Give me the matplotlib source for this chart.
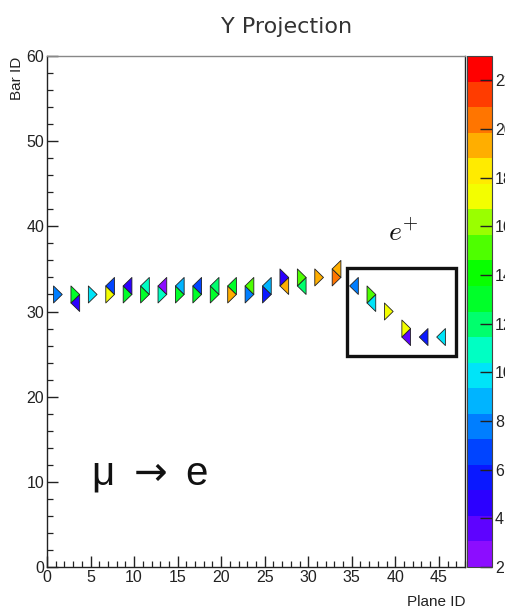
import numpy as np
import matplotlib
matplotlib.use("Agg")
import matplotlib.pyplot as plt
from matplotlib.collections import PolyCollection
from matplotlib.colors import LinearSegmentedColormap, BoundaryNorm
from matplotlib.patches import Rectangle
from matplotlib.ticker import MultipleLocator
from matplotlib.cm import ScalarMappable

# Hit cells of the Y-view track: plane, triangular bar and deposited signal
plane_id = [1, 3, 3, 5, 7, 7, 9, 9, 11, 11, 13, 13, 15, 15, 17, 17, 19, 19,
            21, 21, 23, 23, 25, 25, 27, 27, 29, 29, 31, 33, 33, 35, 37, 37,
            39, 41, 41, 43, 45]
bar_id = [32, 31, 32, 32, 32, 33, 32, 33, 32, 33, 32, 33, 32, 33, 32, 33, 32, 33,
          32, 33, 32, 33, 32, 33, 33, 34, 33, 34, 34, 34, 35, 33, 31, 32,
          30, 27, 28, 27, 27]
hits = [8.0, 4.5, 13.0, 9.5, 17.5, 7.0, 13.0, 5.0, 12.5, 10.5, 11.0, 3.0, 13.0, 8.5,
        12.5, 7.0, 13.5, 12.0, 19.5, 13.0, 8.0, 15.5, 5.5, 9.0, 19.5, 5.0, 11.5,
        15.0, 19.0, 20.0, 19.5, 8.0, 9.5, 15.0, 17.5, 4.0, 17.0, 5.5, 10.0]

z_min, z_max, n_levels = 2.0, 23.0, 20
cbar_ticks = list(range(2, 24, 2))

# rainbow palette, violet -> blue -> cyan -> green -> yellow -> red
palette = LinearSegmentedColormap.from_list("rainbow_root", [
    (0.00, (0.55, 0.05, 1.0)),
    (0.07, (0.30, 0.0, 1.0)),
    (0.12, (0.10, 0.0, 1.0)),
    (0.18, (0.0, 0.15, 1.0)),
    (0.24, (0.0, 0.40, 1.0)),
    (0.30, (0.0, 0.65, 1.0)),
    (0.35, (0.0, 0.85, 1.0)),
    (0.40, (0.0, 1.0, 0.90)),
    (0.45, (0.0, 1.0, 0.55)),
    (0.50, (0.0, 1.0, 0.25)),
    (0.57, (0.0, 1.0, 0.0)),
    (0.64, (0.35, 1.0, 0.0)),
    (0.69, (0.65, 1.0, 0.0)),
    (0.73, (0.95, 1.0, 0.0)),
    (0.79, (1.0, 0.92, 0.0)),
    (0.83, (1.0, 0.72, 0.0)),
    (0.88, (1.0, 0.52, 0.0)),
    (0.93, (1.0, 0.30, 0.0)),
    (1.00, (1.0, 0.0, 0.0)),
], N=256)
levels = np.linspace(z_min, z_max, n_levels + 1)
norm = BoundaryNorm(levels, ncolors=palette.N)


def bar_triangle(plane, bar, shift=0.25):
    """Triangular bar cell: even bars open to the left, odd bars to the right."""
    x0 = plane + shift - 0.5
    x1 = x0 + 1.0
    if bar % 2 == 0:
        return [(x0, bar - 1), (x0, bar + 1), (x1, bar)]
    return [(x1, bar - 1), (x1, bar + 1), (x0, bar)]


W, H = 505, 612
fig = plt.figure(figsize=(W / 100, H / 100), dpi=100)
fig.patch.set_facecolor("white")

ax = fig.add_axes([47 / W, 1 - 567 / H, 418 / W, 511 / H])
cax = fig.add_axes([467 / W, 1 - 567 / H, 25 / W, 511 / H])

tick_font = {"family": "Liberation Sans", "size": 11.5}

cells = PolyCollection([bar_triangle(p, b) for p, b in zip(plane_id, bar_id)],
                       array=np.array(hits), cmap=palette, norm=norm,
                       edgecolors="#222222", linewidths=0.6)
ax.add_collection(cells)

ax.set_xlim(0, 48)
ax.set_ylim(0, 60)
ax.xaxis.set_major_locator(MultipleLocator(5))
ax.xaxis.set_minor_locator(MultipleLocator(1))
ax.yaxis.set_major_locator(MultipleLocator(10))
ax.yaxis.set_minor_locator(MultipleLocator(2))
ax.tick_params(which="both", direction="in", top=False, right=False,
               colors="#222222")
ax.tick_params(which="major", length=8, width=1.0, pad=2)
ax.tick_params(which="minor", length=4, width=0.9)
for lab in ax.get_xticklabels() + ax.get_yticklabels():
    lab.set_fontfamily(tick_font["family"])
    lab.set_fontsize(tick_font["size"])
    lab.set_color("#222222")
for side in ("left", "bottom", "right"):
    ax.spines[side].set_color("#222222")
    ax.spines[side].set_linewidth(1.0)
ax.spines["top"].set_color("#888888")
ax.spines["top"].set_linewidth(1.0)

# positron candidate region
ax.add_patch(Rectangle((34.4, 24.8), 12.6, 10.3, fill=False,
                       edgecolor="#111111", linewidth=2.4))
ax.text(40.9, 39.2, r"$e^{+}$", fontsize=20, math_fontfamily="cm",
        ha="center", va="center", color="#111111")
ax.text(11.8, 10.8, r"μ $\rightarrow$ e", fontsize=29,
        family="Liberation Sans", ha="center", va="center", color="#111111")

cb = fig.colorbar(ScalarMappable(norm=norm, cmap=palette), cax=cax,
                  ticks=cbar_ticks)
cb.outline.set_edgecolor("#444444")
cb.outline.set_linewidth(0.8)
cax.tick_params(direction="in", length=9, width=1.0, colors="#222222", pad=2)
for lab in cax.get_yticklabels():
    lab.set_fontfamily(tick_font["family"])
    lab.set_fontsize(tick_font["size"])
cax.minorticks_off()

fig.text(287 / W, 1 - 27 / H, "Y Projection", ha="center", va="center",
         fontsize=16, family="DejaVu Sans", color="#333333")
fig.text(17 / W, 1 - 78 / H, "Bar ID", rotation=90, ha="center", va="center",
         fontsize=11, family="Liberation Sans", color="#222222")
fig.text(436 / W, 1 - 602 / H, "Plane ID", ha="center", va="center",
         fontsize=11, family="Liberation Sans", color="#222222")

fig.savefig("out.png", dpi=100, facecolor="white")
